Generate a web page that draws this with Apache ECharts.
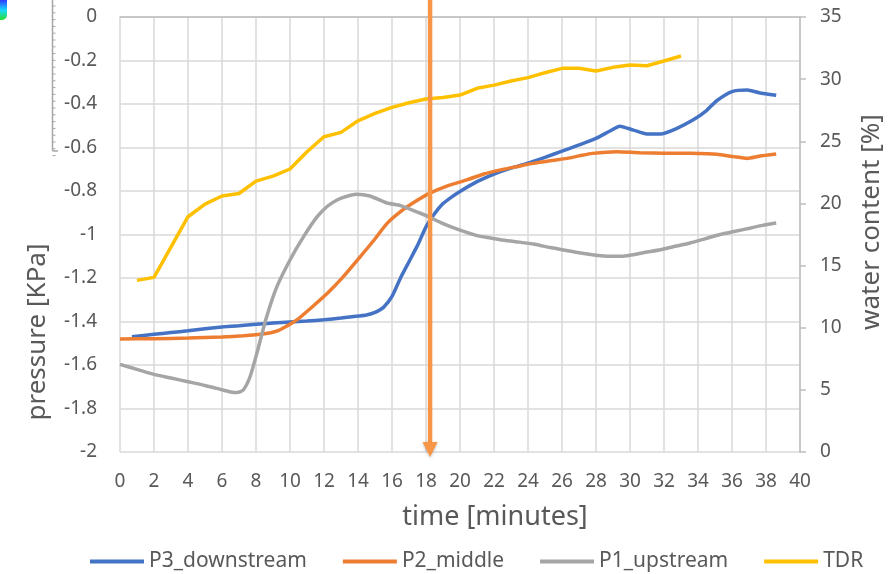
<!DOCTYPE html>
<html>
<head>
<meta charset="utf-8">
<script src="https://cdn.jsdelivr.net/npm/echarts@6/dist/echarts.min.js"></script>
<style>
html,body{margin:0;padding:0;background:#fff;}
#chart{width:891px;height:574px;}
</style>
</head>
<body>
<div id="chart"></div>
<script>
// ---- data (time in minutes) ----
var seriesNames = ['P3_downstream', 'P2_middle', 'P1_upstream', 'TDR'];
var p3Time = [0.7,2,3,4,5,6,7,8,9,10,11,12,13,14,14.5,15,15.5,16,16.5,17,17.5,18,18.5,19,19.5,20,21,22,23,24,25,26,27,28,28.8,29.4,30.2,31,31.8,32.7,33.7,34.5,35.1,36,36.9,37.6,38.6];
var p3Pressure = [-1.470,-1.459,-1.451,-1.443,-1.433,-1.425,-1.420,-1.413,-1.407,-1.402,-1.398,-1.392,-1.384,-1.375,-1.370,-1.358,-1.335,-1.285,-1.200,-1.125,-1.050,-0.965,-0.905,-0.858,-0.828,-0.802,-0.757,-0.722,-0.695,-0.672,-0.645,-0.617,-0.588,-0.558,-0.525,-0.502,-0.520,-0.538,-0.538,-0.514,-0.474,-0.430,-0.385,-0.343,-0.336,-0.348,-0.360];
var p2Time = [0,2,4,6,7.25,8,8.8,9.3,9.6,10,10.4,11.2,12.2,13.1,14.1,14.9,15.7,16.5,17.3,18.2,19.3,20.4,21.4,22.4,23.4,24.3,25.3,26.3,27.1,27.8,29.2,30.6,32,33.5,35.1,36.1,36.9,37.6,38.6];
var p2Pressure = [-1.480,-1.479,-1.476,-1.471,-1.466,-1.461,-1.453,-1.442,-1.430,-1.413,-1.393,-1.340,-1.270,-1.197,-1.105,-1.030,-0.950,-0.895,-0.852,-0.811,-0.775,-0.749,-0.722,-0.703,-0.687,-0.673,-0.661,-0.650,-0.637,-0.627,-0.619,-0.624,-0.626,-0.627,-0.631,-0.642,-0.650,-0.640,-0.630];
var p1Time = [0,1,2,3,4,5,5.9,6.5,6.9,7.25,7.65,8.05,8.6,9.2,10,10.8,11.6,12.2,12.8,13.4,13.9,14.7,15.7,16.5,17.6,18.2,19,20,21,21.8,22.7,23.5,24.4,25.3,26.2,27.1,28,28.8,29.5,30,30.9,31.8,32.6,33.5,34.4,35.3,36.2,37.1,37.8,38.6];
var p1Pressure = [-1.597,-1.620,-1.643,-1.660,-1.677,-1.694,-1.712,-1.724,-1.727,-1.715,-1.654,-1.546,-1.385,-1.245,-1.117,-1.010,-0.918,-0.870,-0.840,-0.823,-0.815,-0.823,-0.855,-0.867,-0.900,-0.920,-0.950,-0.980,-1.005,-1.016,-1.028,-1.035,-1.045,-1.060,-1.072,-1.085,-1.095,-1.100,-1.100,-1.095,-1.082,-1.070,-1.055,-1.040,-1.020,-1.000,-0.985,-0.970,-0.958,-0.947];
var tdrTime = [1,2,4,5,6,7,8,9,10,11,12,13,14,15,16,17,18,19,20,21,22,23,24,25,26,27,28,29,30,31,32,33];
var tdrWater = [13.81,14.05,18.93,19.95,20.6,20.8,21.8,22.2,22.77,24.16,25.37,25.72,26.65,27.25,27.73,28.1,28.4,28.53,28.72,29.26,29.52,29.85,30.12,30.52,30.87,30.87,30.65,30.95,31.13,31.08,31.46,31.86];
var arrowTime = 18.24;
var xTicks = {min: 0, max: 40, interval: 2};
var pTicks = {min: -2, max: 0, interval: 0.2};
var wTicks = {min: 0, max: 35, interval: 5};

function zip(a, b) { return a.map(function (v, i) { return [v, b[i]]; }); }

var FONT = 'Noto Sans';
var TXT = '#595959';
var colors = ['#4472C4', '#ED7D31', '#A5A5A5', '#FFC000'];

var chart = echarts.init(document.getElementById('chart'), null, {renderer: 'canvas'});

// decorative ruler artifact at top-left
var rulerChildren = [{type: 'line', shape: {x1: 52.5, y1: 0, x2: 52.5, y2: 151}, style: {stroke: '#a6a6a6', lineWidth: 1.5}},
  {type: 'line', shape: {x1: 52.5, y1: 151, x2: 58, y2: 151}, style: {stroke: '#a6a6a6', lineWidth: 1.5}}];
for (var k = 0; k * 6.8 < 150; k++) {
  rulerChildren.push({type: 'line', shape: {x1: 52.5, y1: 6 + k * 6.8, x2: 55.5, y2: 6 + k * 6.8}, style: {stroke: '#a6a6a6', lineWidth: 1}});
}

var baseGraphics = [
  {type: 'group', children: rulerChildren, silent: true},
  {type: 'rect', shape: {x: 0, y: 0, width: 7, height: 20, r: [0, 0, 5, 0]},
    style: {fill: new echarts.graphic.LinearGradient(0, 0, 0, 1, [{offset: 0, color: '#2f3cff'}, {offset: 0.5, color: '#18d8ff'}, {offset: 1, color: '#28e028'}])}, silent: true},
  {type: 'text', x: 38, y: 332, rotation: Math.PI / 2,
    style: {text: 'pressure [KPa]', font: '26px "Noto Sans"', fill: TXT, textAlign: 'center', textVerticalAlign: 'middle'}},
  {type: 'text', x: 872, y: 222, rotation: Math.PI / 2,
    style: {text: 'water content [%]', font: '26px "Noto Sans"', fill: TXT, textAlign: 'center', textVerticalAlign: 'middle'}},
  {type: 'text', x: 495, y: 517,
    style: {text: 'time [minutes]', font: '27px "Noto Sans"', fill: TXT, textAlign: 'center', textVerticalAlign: 'middle'}}
];

var option = {
  animation: false,
  backgroundColor: '#ffffff',
  textStyle: {fontFamily: FONT},
  grid: {left: 120, right: 91, top: 17, bottom: 122, containLabel: false},
  legend: {
    data: seriesNames,
    left: 90, top: 551, padding: 0,
    icon: 'rect', itemWidth: 54, itemHeight: 4, itemGap: 36,
    textStyle: {fontFamily: FONT, fontSize: 21, color: TXT}
  },
  xAxis: {
    type: 'value', min: xTicks.min, max: xTicks.max, interval: xTicks.interval,
    axisLine: {show: true, lineStyle: {color: '#BFBFBF', width: 1.5}},
    axisTick: {show: false},
    axisLabel: {fontFamily: FONT, fontSize: 19, color: TXT, margin: 20},
    splitLine: {show: true, lineStyle: {color: '#D9D9D9', width: 1.5}}
  },
  yAxis: [{
    type: 'value', min: pTicks.min, max: pTicks.max, interval: pTicks.interval,
    axisLine: {show: false}, axisTick: {show: false},
    axisLabel: {fontFamily: FONT, fontSize: 19, color: TXT, margin: 23},
    splitLine: {show: true, lineStyle: {color: '#D9D9D9', width: 1.5}}
  }, {
    type: 'value', position: 'right', min: wTicks.min, max: wTicks.max, interval: wTicks.interval,
    axisLine: {show: true, lineStyle: {color: '#BFBFBF', width: 1.5}},
    axisTick: {show: true, inside: false, length: 6, lineStyle: {color: '#BFBFBF', width: 1.5}},
    axisLabel: {fontFamily: FONT, fontSize: 19, color: TXT, margin: 20},
    splitLine: {show: false}
  }],
  graphic: baseGraphics,
  series: [
    {name: seriesNames[0], type: 'line', yAxisIndex: 0, data: zip(p3Time, p3Pressure), showSymbol: false, smooth: 0.2,
      lineStyle: {color: colors[0], width: 3.5}, itemStyle: {color: colors[0]}},
    {name: seriesNames[1], type: 'line', yAxisIndex: 0, data: zip(p2Time, p2Pressure), showSymbol: false, smooth: 0.2,
      lineStyle: {color: colors[1], width: 3.5}, itemStyle: {color: colors[1]}},
    {name: seriesNames[2], type: 'line', yAxisIndex: 0, data: zip(p1Time, p1Pressure), showSymbol: false, smooth: 0.2,
      lineStyle: {color: colors[2], width: 3.5}, itemStyle: {color: colors[2]}},
    {name: seriesNames[3], type: 'line', yAxisIndex: 1, data: zip(tdrTime, tdrWater), showSymbol: false, smooth: false,
      lineStyle: {color: colors[3], width: 3.5}, itemStyle: {color: colors[3]}}
  ]
};
chart.setOption(option);

// vertical arrow at arrowTime, positioned through the chart's own x scale
var bottomPt = chart.convertToPixel({xAxisIndex: 0, yAxisIndex: 0}, [arrowTime, pTicks.min]);
var ax = bottomPt[0], tipY = bottomPt[1] + 5;
var arrowColor = '#F79646';
chart.setOption({
  graphic: baseGraphics.concat([
    {type: 'line', z: 100, silent: true, shape: {x1: ax, y1: 0, x2: ax, y2: tipY - 12},
      style: {stroke: arrowColor, lineWidth: 4.5}},
    {type: 'polygon', z: 100, silent: true, shape: {points: [[ax - 7.5, tipY - 15], [ax + 7.5, tipY - 15], [ax, tipY]]},
      style: {fill: arrowColor, shadowBlur: 3, shadowColor: 'rgba(0,0,0,0.25)', shadowOffsetY: 1}}
  ])
});
</script>
</body>
</html>
